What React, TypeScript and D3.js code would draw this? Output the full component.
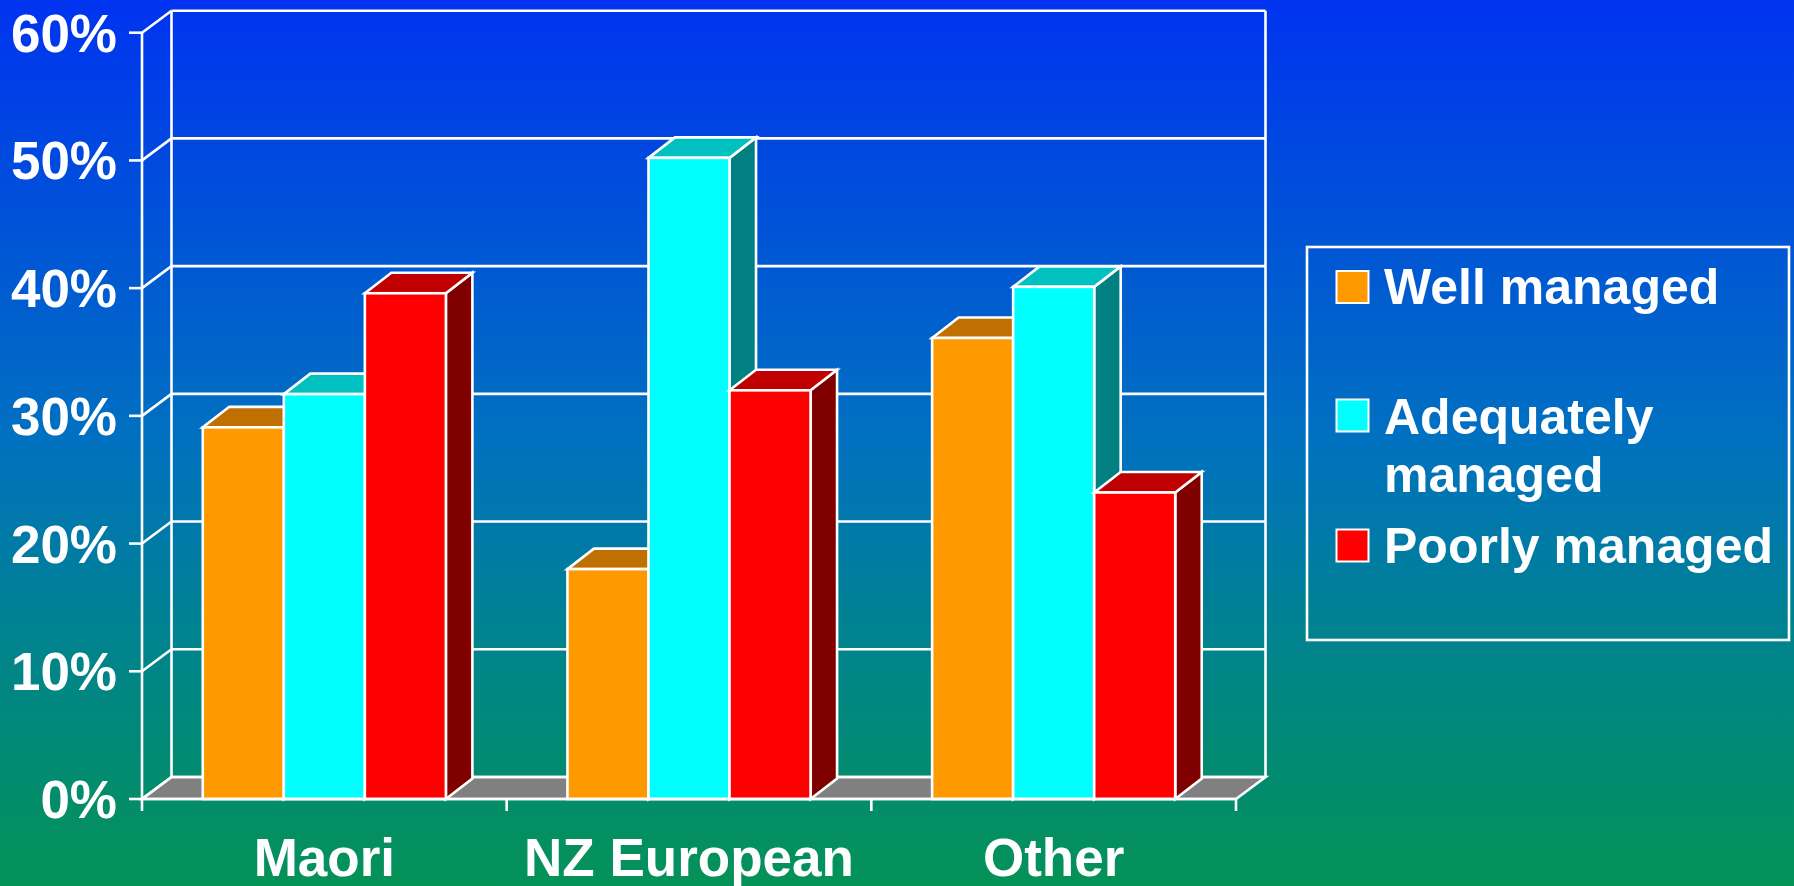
import React from "react";
import * as d3 from "d3";

const categories = ["Maori", "NZ European", "Other"];
const seriesNames = ["Well managed", "Adequately managed", "Poorly managed"];
const wellManaged = [29.1, 18.0, 36.1];
const adequatelyManaged = [31.7, 50.2, 40.1];
const poorlyManaged = [39.6, 32.0, 24.0];
const yTicks = [0, 10, 20, 30, 40, 50, 60];
const yTickLabels = ["0%", "10%", "20%", "30%", "40%", "50%", "60%"];

const seriesValues = [wellManaged, adequatelyManaged, poorlyManaged];
const frontColors = ["#FF9900", "#00FFFF", "#FF0000"];
const topColors = ["#C07000", "#00C0C0", "#C00000"];
const sideColors = ["#804C00", "#008080", "#800000"];

const W = 1794;
const H = 886;
const FONT = "'Liberation Sans', Arial, Helvetica, sans-serif";
const SW = 2.6;

export default function App() {
  const y = d3.scaleLinear().domain([0, 60]).range([799, 32.7]);
  const x = d3.scaleBand<string>().domain(categories).range([142, 1236]);
  const inner = d3
    .scaleBand<number>()
    .domain([0, 1, 2])
    .range([0, x.bandwidth()])
    .paddingInner(0)
    .paddingOuter(0.75);

  const wdx = 29.5;
  const wdy = -22;
  const bdx = 26.5;
  const bdy = -20.5;
  const x0 = 142;
  const x1 = 1236;

  const pts = (arr: [number, number][]) => arr.map((p) => p.join(",")).join(" ");

  const bars: React.ReactNode[] = [];
  categories.forEach((c, ci) => {
    seriesValues.forEach((vals, si) => {
      const v = vals[ci];
      const bx = (x(c) as number) + (inner(si) as number);
      const bw = inner.bandwidth();
      const top = y(v);
      const base = y(0);
      bars.push(
        <g key={`${ci}-${si}`} stroke="#fff" strokeWidth={SW} strokeLinejoin="miter">
          <polygon
            points={pts([
              [bx + bw, base],
              [bx + bw + bdx, base + bdy],
              [bx + bw + bdx, top + bdy],
              [bx + bw, top],
            ])}
            fill={sideColors[si]}
          />
          <polygon
            points={pts([
              [bx, top],
              [bx + bdx, top + bdy],
              [bx + bw + bdx, top + bdy],
              [bx + bw, top],
            ])}
            fill={topColors[si]}
          />
          <rect x={bx} y={top} width={bw} height={base - top} fill={frontColors[si]} />
        </g>
      );
    });
  });

  return (
    <svg
      width={W}
      height={H}
      viewBox={`0 0 ${W} ${H}`}
      style={{ position: "fixed", left: 0, top: 0, display: "block" }}
    >
      <defs>
        <linearGradient id="bg" x1="0" y1="0" x2="0" y2="1">
          <stop offset="0" stopColor="#0033F0" />
          <stop offset="0.5" stopColor="#0071BF" />
          <stop offset="0.72" stopColor="#00838E" />
          <stop offset="1" stopColor="#049257" />
        </linearGradient>
      </defs>
      <rect x={0} y={0} width={W} height={H} fill="url(#bg)" />

      {/* floor */}
      <polygon
        points={pts([
          [x0, y(0)],
          [x1, y(0)],
          [x1 + wdx, y(0) + wdy],
          [x0 + wdx, y(0) + wdy],
        ])}
        fill="#808080"
        stroke="#fff"
        strokeWidth={SW}
      />

      {/* back wall gridlines */}
      {yTicks.map((t) => (
        <line
          key={`g${t}`}
          x1={x0 + wdx}
          x2={x1 + wdx}
          y1={y(t) + wdy}
          y2={y(t) + wdy}
          stroke="#fff"
          strokeWidth={SW}
        />
      ))}
      {/* side wall slants */}
      {yTicks.map((t) => (
        <line
          key={`s${t}`}
          x1={x0}
          y1={y(t)}
          x2={x0 + wdx}
          y2={y(t) + wdy}
          stroke="#fff"
          strokeWidth={SW}
        />
      ))}
      <line x1={x0 + wdx} x2={x0 + wdx} y1={y(60) + wdy} y2={y(0) + wdy} stroke="#fff" strokeWidth={SW} />
      <line x1={x1 + wdx} x2={x1 + wdx} y1={y(60) + wdy} y2={y(0) + wdy} stroke="#fff" strokeWidth={SW} />

      {bars}

      {/* front axes */}
      <line x1={x0} x2={x0} y1={y(60)} y2={y(0) + 12} stroke="#fff" strokeWidth={SW} />
      <line x1={x0} x2={x1} y1={y(0)} y2={y(0)} stroke="#fff" strokeWidth={SW} />
      {yTicks.map((t) => (
        <line key={`t${t}`} x1={x0 - 13} x2={x0} y1={y(t)} y2={y(t)} stroke="#fff" strokeWidth={SW} />
      ))}
      {categories.map((c) => (
        <line
          key={`ct${c}`}
          x1={(x(c) as number) + x.bandwidth()}
          x2={(x(c) as number) + x.bandwidth()}
          y1={y(0)}
          y2={y(0) + 12}
          stroke="#fff"
          strokeWidth={SW}
        />
      ))}

      {/* y labels */}
      {yTicks.map((t, i) => (
        <text
          key={`yl${t}`}
          x={117}
          y={y(t) + 19}
          textAnchor="end"
          fill="#fff"
          fontFamily={FONT}
          fontWeight="bold"
          fontSize={53}
        >
          {yTickLabels[i]}
        </text>
      ))}

      {/* category labels */}
      {categories.map((c) => (
        <text
          key={`cl${c}`}
          x={(x(c) as number) + x.bandwidth() / 2}
          y={876}
          textAnchor="middle"
          fill="#fff"
          fontFamily={FONT}
          fontWeight="bold"
          fontSize={53}
        >
          {c}
        </text>
      ))}

      {/* legend */}
      <rect x={1307} y={247} width={482} height={393} fill="none" stroke="#fff" strokeWidth={SW} />
      {[
        { sy: 271, lines: [seriesNames[0]], bases: [304] },
        { sy: 399.5, lines: ["Adequately", "managed"], bases: [434, 492] },
        { sy: 529.5, lines: [seriesNames[2]], bases: [563] },
      ].map((item, i) => (
        <g key={`lg${i}`}>
          <rect x={1336.5} y={item.sy} width={32} height={32} fill={frontColors[i]} stroke="#fff" strokeWidth={2} />
          {item.lines.map((ln, j) => (
            <text
              key={j}
              x={1384}
              y={item.bases[j]}
              fill="#fff"
              fontFamily={FONT}
              fontWeight="bold"
              fontSize={50}
            >
              {ln}
            </text>
          ))}
        </g>
      ))}
    </svg>
  );
}
